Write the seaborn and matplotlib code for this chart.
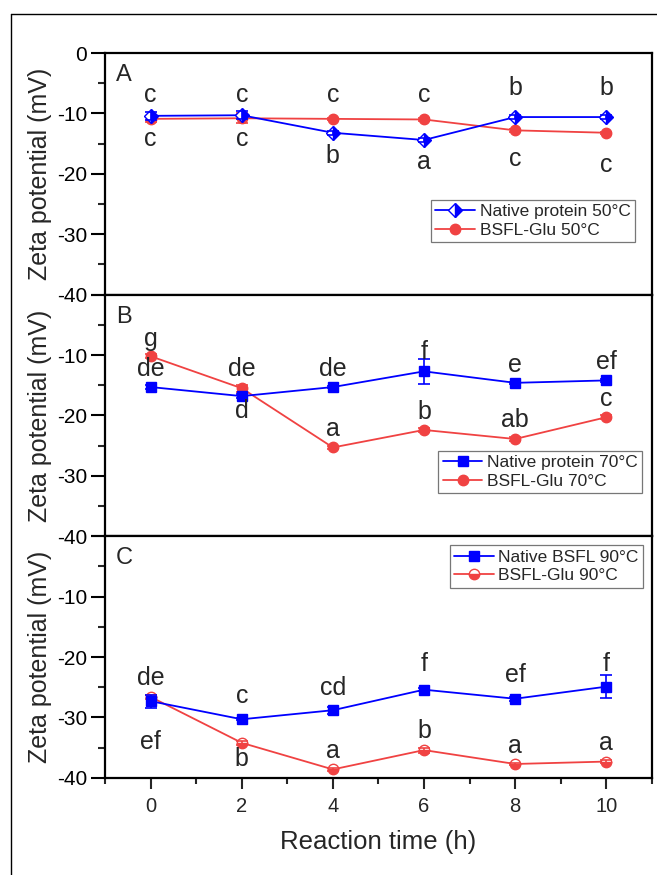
import numpy as np
import pandas as pd
import matplotlib
matplotlib.use("Agg")
import matplotlib.pyplot as plt
from matplotlib.ticker import MultipleLocator
from matplotlib.lines import Line2D
import seaborn as sns

# ---------------- data ----------------
time = [0, 2, 4, 6, 8, 10]

native_50 = [-10.4, -10.3, -13.2, -14.4, -10.6, -10.6]
native_50_err = [0.7, 0.7, 0.3, 0.3, 0.3, 0.3]
glu_50 = [-10.9, -10.8, -10.9, -11.0, -12.8, -13.2]
glu_50_err = [0.5, 0.8, 0.2, 0.3, 0.2, 0.2]
letters_native_50 = ["c", "c", "b", "a", "b", "b"]
letters_glu_50 = ["c", "c", "c", "c", "c", "c"]
ypos_native_50 = [-7.0, -7.0, -17.1, -18.1, -5.8, -5.8]
ypos_glu_50 = [-14.2, -14.2, -7.0, -7.0, -17.6, -18.6]

native_70 = [-15.3, -16.8, -15.3, -12.7, -14.6, -14.2]
native_70_err = [0.3, 0.3, 0.2, 2.1, 0.2, 0.2]
glu_70 = [-10.2, -15.5, -25.3, -22.4, -23.9, -20.3]
glu_70_err = [0.3, 0.6, 0.3, 0.3, 0.3, 0.3]
letters_native_70 = ["de", "d", "de", "f", "e", "ef"]
letters_glu_70 = ["g", "de", "a", "b", "ab", "c"]
ypos_native_70 = [-12.3, -19.2, -12.3, -9.5, -11.6, -11.1]
ypos_glu_70 = [-7.3, -12.3, -22.2, -19.4, -20.8, -17.3]

native_90 = [-27.3, -30.3, -28.8, -25.4, -26.9, -24.9]
native_90_err = [1.1, 0.2, 0.6, 0.2, 0.3, 1.9]
glu_90 = [-26.6, -34.2, -38.6, -35.4, -37.7, -37.3]
glu_90_err = [0.4, 0.3, 0.2, 0.4, 0.2, 0.2]
letters_native_90 = ["de", "c", "cd", "f", "ef", "f"]
letters_glu_90 = ["ef", "b", "a", "b", "a", "a"]
ypos_native_90 = [-23.5, -26.5, -25.1, -21.2, -22.9, -21.2]
ypos_glu_90 = [-34.0, -36.9, -35.6, -32.3, -34.8, -34.2]

panel_letters = ["A", "B", "C"]
legend_native = ["Native protein 50°C", "Native protein 70°C", "Native BSFL 90°C"]
legend_glu = ["BSFL-Glu 50°C", "BSFL-Glu 70°C", "BSFL-Glu 90°C"]
y_ticks = [0, -10, -20, -30, -40]
x_ticks = [0, 2, 4, 6, 8, 10]

# ---------------- style ----------------
sns.set_theme(style="ticks")
plt.rcParams["font.family"] = ["Liberation Sans", "DejaVu Sans"]
plt.rcParams["axes.unicode_minus"] = False

BLUE = "#0000FF"
RED = "#F04242"

fig = plt.figure(figsize=(6.57, 8.75), dpi=100)
gs = fig.add_gridspec(3, 1, left=0.160, right=0.992, top=0.9394, bottom=0.111, hspace=0)
axes = [fig.add_subplot(gs[i]) for i in range(3)]

panels = [
    (native_50, native_50_err, glu_50, glu_50_err, letters_native_50, letters_glu_50, ypos_native_50, ypos_glu_50,
     dict(marker="D", fillstyle="right", markersize=7.5)),
    (native_70, native_70_err, glu_70, glu_70_err, letters_native_70, letters_glu_70, ypos_native_70, ypos_glu_70,
     dict(marker="s", fillstyle="full", markersize=7.5)),
    (native_90, native_90_err, glu_90, glu_90_err, letters_native_90, letters_glu_90, ypos_native_90, ypos_glu_90,
     dict(marker="s", fillstyle="full", markersize=7.5)),
]
glu_styles = [
    dict(marker="o", fillstyle="full", markersize=7.5),
    dict(marker="o", fillstyle="full", markersize=7.5),
    dict(marker="o", fillstyle="bottom", markersize=7.5),
]
legend_anchor = [("lower right", (0.969, 0.218)), ("lower right", (0.982, 0.178)), ("upper right", (0.984, 0.963))]

for i, ax in enumerate(axes):
    nat, nat_err, glu, glu_err, ln, lg, yn, yg, nat_style = panels[i]
    df_n = pd.DataFrame({"t": time, "z": nat})
    df_g = pd.DataFrame({"t": time, "z": glu})

    sns.lineplot(data=df_n, x="t", y="z", ax=ax, color=BLUE, lw=1.3,
                 markeredgecolor=BLUE, markerfacecolor=BLUE, markerfacecoloralt="white",
                 markeredgewidth=1.0, label=legend_native[i], errorbar=None, zorder=3, **nat_style)
    ax.errorbar(time, nat, yerr=nat_err, fmt="none", ecolor=BLUE, elinewidth=1.2, capsize=4, capthick=1.2, zorder=3)

    sns.lineplot(data=df_g, x="t", y="z", ax=ax, color=RED, lw=1.3,
                 markeredgecolor=RED, markerfacecolor=RED, markerfacecoloralt="white",
                 markeredgewidth=1.0, label=legend_glu[i], errorbar=None, zorder=2, **glu_styles[i])
    ax.errorbar(time, glu, yerr=glu_err, fmt="none", ecolor=RED, elinewidth=1.2, capsize=4, capthick=1.2, zorder=2)

    for t, lab, y in zip(time, ln, yn):
        ax.text(t, y, lab, ha="center", va="center", fontsize=18)
    for t, lab, y in zip(time, lg, yg):
        ax.text(t, y, lab, ha="center", va="center", fontsize=18)

    ax.text(0.02, 0.955, panel_letters[i], transform=ax.transAxes, ha="left", va="top", fontsize=17)

    ax.set_xlim(-1, 11)
    ax.set_ylim(-40, 0)
    ax.set_yticks(y_ticks)
    ax.yaxis.set_minor_locator(MultipleLocator(5))
    ax.set_xticks(x_ticks)
    ax.xaxis.set_minor_locator(MultipleLocator(1))
    ax.tick_params(axis="y", which="major", direction="out", length=10, width=1.5, labelsize=15, pad=3, colors="black")
    ax.tick_params(axis="y", which="minor", direction="out", length=5, width=1.5)
    ax.tick_params(axis="x", which="major", direction="out", length=8, width=1.5, labelsize=14.5, pad=6)
    ax.tick_params(axis="x", which="minor", direction="out", length=4, width=1.5)
    for sp in ax.spines.values():
        sp.set_linewidth(1.6)
        sp.set_color("black")
        sp.set_visible(True)

    ax.set_ylabel("Zeta potential (mV)", fontsize=18)
    ax.yaxis.set_label_coords(-0.097, 0.5)

    loc, anchor = legend_anchor[i]
    leg = ax.legend(loc=loc, bbox_to_anchor=anchor, borderaxespad=0, fontsize=12.5, frameon=True,
                    fancybox=False, edgecolor="#777777", framealpha=1, handlelength=2.3,
                    handletextpad=0.25, labelspacing=0.2, borderpad=0.25)
    leg.get_frame().set_linewidth(0.9)

    if i < 2:
        ax.tick_params(axis="x", which="both", length=0, labelbottom=False)
        ax.set_xlabel("")
    else:
        ax.set_xlabel("Reaction time (h)", fontsize=18.5, labelpad=10)

# hide the top "0" label on panels B and C (overlaps panel above)
for ax in axes[1:]:
    ax.set_yticks(y_ticks)
    ax.set_yticklabels(["" if v == 0 else str(v) for v in y_ticks])

# outer frame (left and top lines)
fig.add_artist(Line2D([11 / 657, 11 / 657], [0, 1 - 13.5 / 875], transform=fig.transFigure, color="black", lw=1.0))
fig.add_artist(Line2D([11 / 657, 1], [1 - 13.5 / 875, 1 - 13.5 / 875], transform=fig.transFigure, color="black", lw=1.0))

fig.savefig("out.png", dpi=100)
